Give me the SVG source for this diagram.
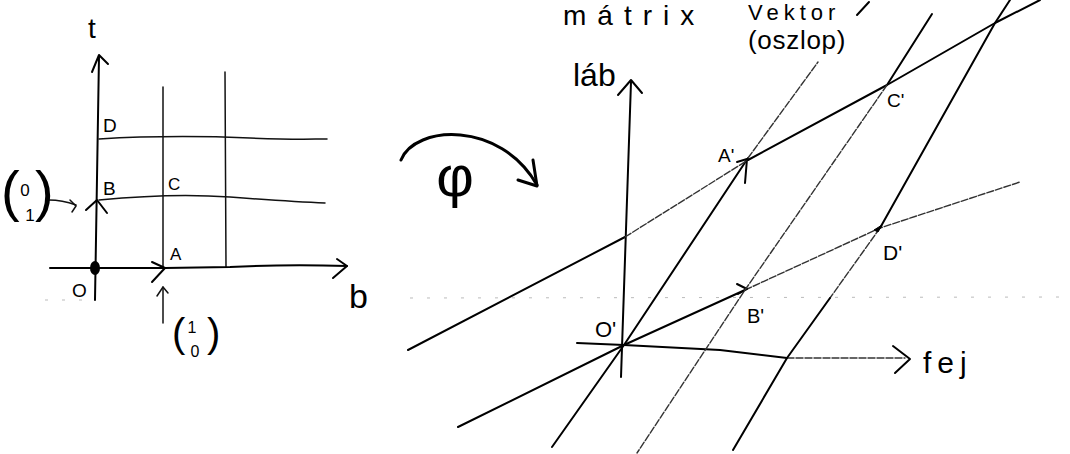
<svg xmlns="http://www.w3.org/2000/svg" width="1070" height="454" viewBox="0 0 1070 454">
<style>
.s{fill:none;stroke:#000;stroke-width:2;stroke-linecap:round;stroke-linejoin:round}
.t{fill:none;stroke:#111;stroke-width:1.5;stroke-linecap:round;stroke-linejoin:round}
.f{fill:none;stroke:#333;stroke-width:1.4;stroke-dasharray:7 2;stroke-linecap:round}
.scan{fill:none;stroke:#bbb;stroke-width:1;stroke-dasharray:3 14}
.lbl{font-family:"Liberation Sans","DejaVu Sans",sans-serif;fill:#000}
</style>
<rect width="1070" height="454" fill="#fff"/>
<g id="scan-artifact">
<path class="scan" d="M45,300 L90,300"/>
<path class="scan" d="M410,298 L1070,297"/>
</g>
<g id="left-diagram">
<g id="connectors-left">
<path class="s" d="M95,300 Q97,180 99,56"/>
<path class="s" d="M92,72 L99,55 L108,64"/>
<path class="s" d="M86,210 L97,200 L107,213"/>
<path class="t" d="M163,87 L163,268"/>
<path class="t" d="M225,72 L226,267"/>
<path class="t" d="M99,139 C150,136 200,136 250,138 S310,139 327,139"/>
<path class="t" d="M99,200 C140,196 190,194 230,197 S300,202 325,203"/>
<path class="s" d="M50,268 L165,268 L230,267 C270,265 310,265 347,266"/>
<path class="s" d="M337,259 L347,266 L333,278"/>
<path class="s" d="M152,262 L165,268 L152,282"/>
<path class="t" d="M49,200 Q62,200 76,205"/>
<path class="t" d="M70,200 L76,206 L72,212"/>
<path class="t" d="M163,323 L163,287"/>
<path class="t" d="M157,296 L163,287 L168,293"/>
</g>
<ellipse id="origin-dot" cx="95" cy="268" rx="5" ry="7" fill="#000"/>
<g id="labels-left">
<text class="lbl" x="88" y="38" font-size="28">t</text>
<text class="lbl" x="103" y="132" font-size="19">D</text>
<text class="lbl" x="103" y="195" font-size="19">B</text>
<text class="lbl" x="168" y="190" font-size="17">C</text>
<text class="lbl" x="170" y="260" font-size="17">A</text>
<text class="lbl" x="72" y="297" font-size="19">O</text>
<text class="lbl" x="349" y="308" font-size="34">b</text>
</g>
<g id="vec-01">
<text class="lbl" x="1" y="210" font-size="56">(</text>
<text class="lbl" x="35" y="210" font-size="56">)</text>
<text class="lbl" x="25" y="196" font-size="17" text-anchor="middle">0</text>
<text class="lbl" x="30" y="221" font-size="17" text-anchor="middle">1</text>
</g>
<g id="vec-10">
<text class="lbl" x="172" y="347" font-size="40">(</text>
<text class="lbl" x="207" y="347" font-size="40">)</text>
<text class="lbl" x="192" y="333" font-size="16" text-anchor="middle">1</text>
<text class="lbl" x="195" y="357" font-size="16" text-anchor="middle">0</text>
</g>
</g>
<g id="phi-map">
<path d="M401,160 C415,125 500,120 537,185" fill="none" stroke="#000" stroke-width="3" stroke-linecap="round"/>
<path d="M518,180 L537,186 L533,160" fill="none" stroke="#000" stroke-width="3" stroke-linecap="round" stroke-linejoin="round"/>
<text class="lbl" x="455" y="196" font-size="58" text-anchor="middle">φ</text>
</g>
<g id="right-diagram">
<g id="connectors-right">
<path class="s" d="M621,377 L631,82"/>
<path class="s" d="M618,95 L631,80 L642,93"/>
<path class="s" d="M577,343 L624,345 L720,350 L787,358"/>
<path class="f" d="M787,358 L905,358"/>
<path class="s" d="M893,346 L910,359 L895,373"/>
<path class="s" d="M552,447 L624,345 L748,158"/>
<path class="f" d="M748,158 L818,62"/>
<path class="s" d="M737,162 L747,159 L745,183"/>
<path class="s" d="M458,427 L624,345 L745,290"/>
<path class="f" d="M745,290 L880,228 L1020,182"/>
<path class="s" d="M737,284 L747,289 L738,294"/>
<path class="s" d="M408,350 L625,237"/>
<path class="f" d="M625,237 L748,160"/>
<path class="s" d="M748,160 L887,85 L995,23 L1040,0"/>
<path class="s" d="M932,14 L887,85"/>
<path class="f" d="M887,85 L745,290 L637,453"/>
<path class="s" d="M1010,0 L995,23 L880,228"/>
<path class="f" d="M880,228 L830,298"/>
<path class="s" d="M830,298 L787,358 L733,450"/>
<path d="M874,230 L882,225 L878,232 Z" fill="#000" stroke="#000" stroke-width="1"/>
</g>
<g id="labels-right">
<text class="lbl" x="563" y="25" font-size="28" letter-spacing="11">mátrix</text>
<text class="lbl" x="748" y="20" font-size="22" letter-spacing="5">Vektor</text>
<path class="s" d="M857,15 L869,2"/>
<text class="lbl" x="748" y="49" font-size="26" letter-spacing="0.7">(oszlop)</text>
<text class="lbl" x="573" y="86" font-size="32">láb</text>
<text class="lbl" x="923" y="373" font-size="30" letter-spacing="6">fej</text>
<text class="lbl" x="595" y="337" font-size="22">O'</text>
<text class="lbl" x="718" y="162" font-size="19">A'</text>
<text class="lbl" x="887" y="107" font-size="19">C'</text>
<text class="lbl" x="883" y="260" font-size="21">D'</text>
<text class="lbl" x="747" y="323" font-size="20">B'</text>
</g>
</g>
</svg>
